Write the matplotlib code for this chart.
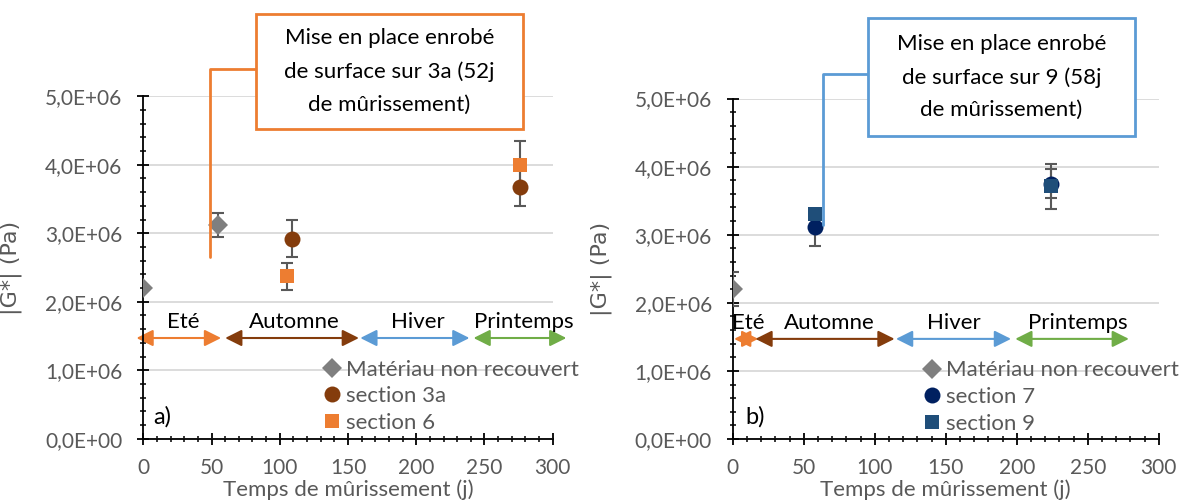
import matplotlib.pyplot as plt
from matplotlib.ticker import MultipleLocator, FuncFormatter
from matplotlib.patches import Rectangle

plt.rcParams['font.family'] = ['Lato', 'DejaVu Sans']

# ---- data, panel a) ----
t_mat_a = [0, 55]
g_mat_a = [2.20e6, 3.12e6]
e_mat_a = [0.0, 0.17e6]
t_3a = [109, 276]
g_3a = [2.92e6, 3.68e6]
e_3a = [0.27e6, 0.28e6]
t_6 = [105, 276]
g_6 = [2.37e6, 4.00e6]
e_6 = [0.20e6, 0.34e6]

# ---- data, panel b) ----
t_mat_b = [0]
g_mat_b = [2.20e6]
e_mat_b = [0.25e6]
t_7 = [58, 224]
g_7 = [3.11e6, 3.75e6]
e_7 = [0.27e6, 0.21e6]
t_9 = [58, 224]
g_9 = [3.30e6, 3.71e6]
e_9 = [0.0, 0.335e6]

# seasons (start / end in days)
seasons = ['Eté', 'Automne', 'Hiver', 'Printemps']
season_colors = ['#ED7D31', '#843C0C', '#5B9BD5', '#70AD47']
start_a = [-5, 60, 159, 242]
end_a = [57, 158, 239, 310]
label_x_a = [29, 111, 201, 279]
start_b = [1, 16, 115, 199]
end_b = [18, 114, 196, 279]
label_x_b = [11, 68, 156, 243]
arrow_y = 1.47e6
label_y = 1.70e6

callout_a = "Mise en place enrobé\nde surface sur 3a (52j\nde mûrissement)"
callout_b = "Mise en place enrobé\nde surface sur 9 (58j\nde mûrissement)"
leader_a = (49, 2.65e6)
leader_b = (63.5, 3.14e6)

GRAY_TXT = '#595959'
W, H = 1187, 504

fig = plt.figure(figsize=(W / 100, H / 100), dpi=100)


def fx(px):
    return px / W


def fy(py):
    return 1 - py / H


def sci_fmt(v, pos):
    return f"{v:.1E}".replace('.', ',')


def style_axis(ax):
    ax.set_xlim(0, 300)
    ax.set_ylim(0, 5e6)
    ax.xaxis.set_major_locator(MultipleLocator(50))
    ax.xaxis.set_minor_locator(MultipleLocator(10))
    ax.yaxis.set_major_locator(MultipleLocator(1e6))
    ax.yaxis.set_minor_locator(MultipleLocator(0.2e6))
    ax.yaxis.set_major_formatter(FuncFormatter(sci_fmt))
    for s in ['top', 'right']:
        ax.spines[s].set_visible(False)
    for s in ['left', 'bottom']:
        ax.spines[s].set_linewidth(1.3)
        ax.spines[s].set_color('black')
    ax.tick_params(which='major', direction='inout', length=8, width=1.3,
                   color='black', labelcolor=GRAY_TXT, labelsize=15)
    ax.tick_params(which='minor', direction='inout', length=4, width=1.1,
                   color='black')
    ax.tick_params(axis='x', which='major', pad=10)
    ax.tick_params(axis='y', which='major', pad=11)
    ax.grid(axis='y', which='major', color='#D9D9D9', lw=1.3)
    ax.set_axisbelow(True)
    ax.set_xlabel('Temps de mûrissement (j)', color=GRAY_TXT, fontsize=16)
    ax.set_ylabel('|G*| (Pa)', color=GRAY_TXT, fontsize=16,
                  family=['DejaVu Sans'])
    ax.xaxis.set_label_coords(0.5, -0.118)
    ax.yaxis.set_label_coords(-0.296, 0.5)


def draw_series(ax, t, g, e, marker, color, ms, label):
    ax.errorbar(t, g, yerr=e, fmt='none', ecolor='#595959', elinewidth=1.5,
                capsize=4.5, capthick=1.5, zorder=3)
    line, = ax.plot(t, g, linestyle='none', marker=marker, color=color,
                    markersize=ms, markeredgewidth=0, label=label, zorder=4)
    return line


def draw_seasons(ax, start, end, label_x):
    for name, c, x0, x1, xl in zip(seasons, season_colors, start, end, label_x):
        ax.annotate('', xy=(x1, arrow_y), xytext=(x0, arrow_y),
                    arrowprops=dict(arrowstyle='<|-|>,head_length=1.0,head_width=0.5',
                                    color=c, lw=1.5, shrinkA=0, shrinkB=0,
                                    mutation_scale=10),
                    annotation_clip=False, zorder=2)
        ax.text(xl, label_y, name, ha='center', va='center', fontsize=16,
                color='black', zorder=5)


def draw_callout(ax, box_px, text, leader, color):
    x0, y0, x1, y1 = box_px
    fig.patches.append(Rectangle((fx(x0), fy(y1)), fx(x1 - x0), (y1 - y0) / H,
                                 transform=fig.transFigure, facecolor='white',
                                 edgecolor=color, lw=2, zorder=10))
    fig.text(fx((x0 + x1) / 2), fy((y0 + y1) / 2), text, ha='center',
             va='center', fontsize=16, linespacing=1.78, zorder=11)
    ax.annotate('', xy=leader, xycoords='data',
                xytext=(fx(x0), fy((y0 + y1) / 2 - 3)),
                textcoords='figure fraction',
                arrowprops=dict(arrowstyle='-', color=color, lw=2,
                                shrinkA=0, shrinkB=0,
                                connectionstyle='angle,angleA=0,angleB=90,rad=0'),
                annotation_clip=False, zorder=6)


def draw_legend(ax, handles, anchor):
    ax.legend(handles=handles, loc='upper left', bbox_to_anchor=anchor,
              frameon=False, fontsize=16, labelcolor=GRAY_TXT, handlelength=0.8,
              handletextpad=0.25, labelspacing=0.3, borderpad=0,
              borderaxespad=0, numpoints=1)


# ---- panel a) ----
ax_a = fig.add_axes([fx(143.3), fy(438.7), (552.7 - 143.3) / W, (438.7 - 96.2) / H])
style_axis(ax_a)
h1 = draw_series(ax_a, t_mat_a, g_mat_a, e_mat_a, 'D', '#7F7F7F', 10, 'Matériau non recouvert')
h2 = draw_series(ax_a, t_3a, g_3a, e_3a, 'o', '#843C0C', 11.5, 'section 3a')
h3 = draw_series(ax_a, t_6, g_6, e_6, 's', '#ED7D31', 10.5, 'section 6')
draw_seasons(ax_a, start_a, end_a, label_x_a)
draw_legend(ax_a, [h1, h2, h3], (0.439, 0.231))
ax_a.text(0.024, 0.065, 'a)', transform=ax_a.transAxes, fontsize=17,
          ha='left', va='center')
draw_callout(ax_a, (256, 14, 523, 129), callout_a, leader_a, '#ED7D31')

# ---- panel b) ----
ax_b = fig.add_axes([fx(732.7), fy(439), (1158.7 - 732.7) / W, (439 - 98.5) / H])
style_axis(ax_b)
ax_b.yaxis.set_label_coords(-0.284, 0.5)
k1 = draw_series(ax_b, t_mat_b, g_mat_b, e_mat_b, 'D', '#7F7F7F', 10, 'Matériau non recouvert')
k2 = draw_series(ax_b, t_7, g_7, e_7, 'o', '#002060', 11.5, 'section 7')
k3 = draw_series(ax_b, t_9, g_9, e_9, 's', '#1F4E79', 10.5, 'section 9')
draw_seasons(ax_b, start_b, end_b, label_x_b)
draw_legend(ax_b, [k1, k2, k3], (0.447, 0.231))
ax_b.text(0.029, 0.065, 'b)', transform=ax_b.transAxes, fontsize=17,
          ha='left', va='center')
draw_callout(ax_b, (868, 18, 1135, 136), callout_b, leader_b, '#5B9BD5')

fig.savefig('out.png', dpi=100)
